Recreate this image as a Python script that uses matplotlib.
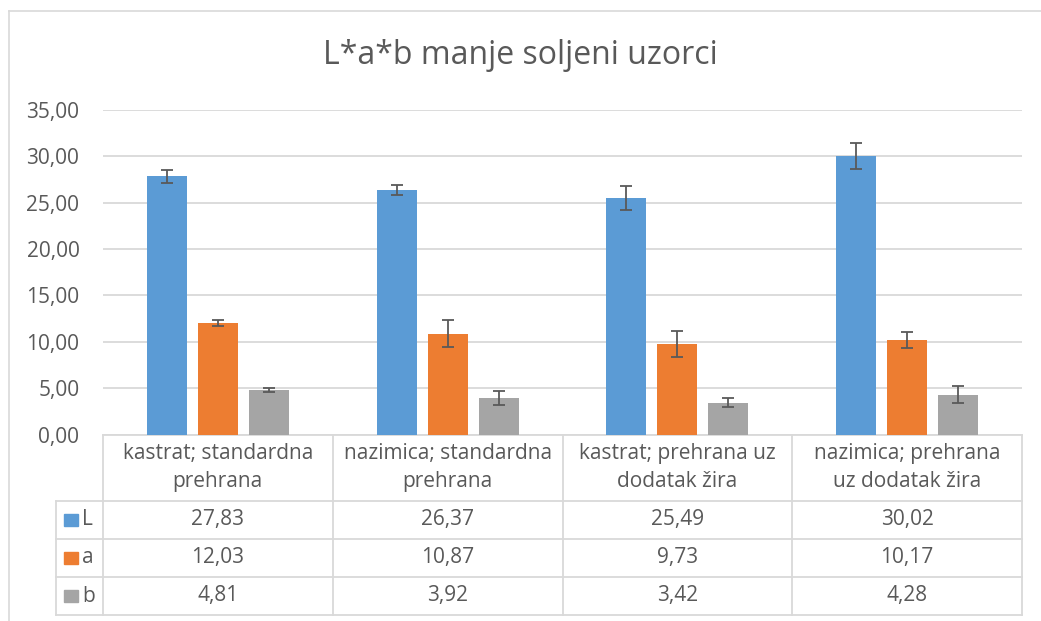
import numpy as np
import matplotlib
matplotlib.use("Agg")
import matplotlib.pyplot as plt
from matplotlib.ticker import FuncFormatter

plt.rcParams['font.family'] = ['Open Sans', 'DejaVu Sans']

# data
title = "L*a*b manje soljeni uzorci"
categories = ["kastrat; standardna\nprehrana",
              "nazimica; standardna\nprehrana",
              "kastrat; prehrana uz\ndodatak žira",
              "nazimica; prehrana\nuz dodatak žira"]
series_names = ["L", "a", "b"]
L_vals = [27.83, 26.37, 25.49, 30.02]
a_vals = [12.03, 10.87, 9.73, 10.17]
b_vals = [4.81, 3.92, 3.42, 4.28]
L_err = [0.68, 0.54, 1.29, 1.40]
a_err = [0.36, 1.44, 1.42, 0.88]
b_err = [0.25, 0.75, 0.50, 0.93]
colors = ["#5B9BD5", "#ED7D31", "#A5A5A5"]

TXT = "#595959"
GRID = "#D9D9D9"
W, H = 1041, 621
FS = 15

fig = plt.figure(figsize=(W / 100, H / 100), dpi=100)

def fx(px):
    return px / W

def fy(py):
    return 1 - py / H

# outer chart border (only left and top visible)
fig.add_artist(plt.Line2D([fx(8.5), fx(8.5)], [fy(11), fy(H)], color=GRID, lw=1.2))
fig.add_artist(plt.Line2D([fx(8.5), fx(W)], [fy(11), fy(11)], color=GRID, lw=1.2))

# plot area
left, right, top, bottom = 103, 1022, 109.7, 434.5
ax = fig.add_axes([fx(left), fy(bottom), fx(right - left), fy(top) - fy(bottom)])
x = np.arange(len(categories))
width = 0.174
step = 0.222
for i, (vals, errs) in enumerate([(L_vals, L_err), (a_vals, a_err), (b_vals, b_err)]):
    ax.bar(x + (i - 1) * step, vals, width, color=colors[i], zorder=2,
           yerr=errs, error_kw=dict(ecolor=TXT, elinewidth=1.3, capsize=4.5, capthick=1.3, zorder=3))
ax.set_xlim(-0.5, len(categories) - 0.5)
ax.set_ylim(0, 35)
ax.set_yticks(np.arange(0, 36, 5))
ax.yaxis.set_major_formatter(FuncFormatter(lambda v, p: f"{v:.2f}".replace('.', ',')))
ax.tick_params(axis='y', length=0, pad=17, labelsize=FS, labelcolor=TXT)
ax.set_xticks([])
ax.grid(axis='y', color=GRID, lw=1.3, zorder=0)
for s in ax.spines.values():
    s.set_visible(False)
ax.set_facecolor("none")

fig.text(0.5, fy(55), title, ha='center', va='center', fontsize=23, color=TXT)

# data table under the plot
tab = fig.add_axes([0, 0, 1, 1], zorder=-1)
tab.set_xlim(0, W)
tab.set_ylim(H, 0)
tab.axis('off')
col_w = (right - left) / len(categories)
row_y = [434.5, 500.5, 538.5, 577, 615]
lc = dict(color=GRID, lw=1.3)
# header row lines
tab.plot([left, right], [row_y[0], row_y[0]], **lc)
for yy in row_y[1:]:
    tab.plot([56, right], [yy, yy], **lc)
for k in range(len(categories) + 1):
    xx = left + k * col_w
    tab.plot([xx, xx], [row_y[0], row_y[-1]], **lc)
tab.plot([56, 56], [row_y[1], row_y[-1]], **lc)

for k, cat in enumerate(categories):
    cx = left + (k + 0.5) * col_w
    tab.text(cx, (row_y[0] + row_y[1]) / 2, cat, ha='center', va='center',
             fontsize=FS, color=TXT, linespacing=1.38)
for r, (name, vals) in enumerate(zip(series_names, [L_vals, a_vals, b_vals])):
    cy = (row_y[r + 1] + row_y[r + 2]) / 2
    tab.add_patch(plt.Rectangle((64, cy - 6), 14, 12, color=colors[r]))
    tab.text(82, cy, name, ha='left', va='center', fontsize=FS, color=TXT)
    for k, v in enumerate(vals):
        cx = left + (k + 0.5) * col_w
        tab.text(cx, cy, f"{v:.2f}".replace('.', ','), ha='center', va='center',
                 fontsize=FS, color=TXT)

fig.savefig("out.png", dpi=100)
